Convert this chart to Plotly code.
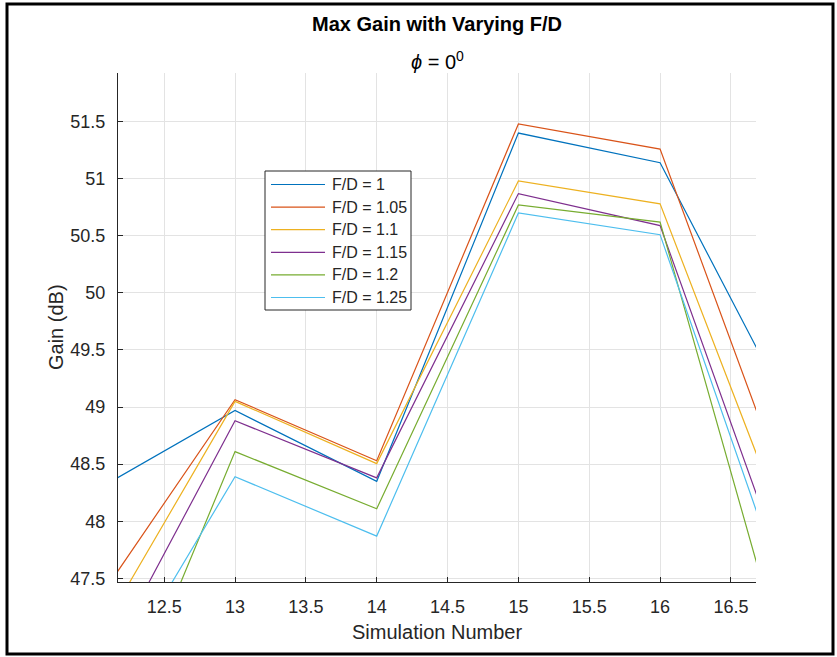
import plotly.graph_objects as go

# Simulation runs and peak gain (dB) for each focal-length-to-diameter ratio
sim_number = [12, 13, 14, 15, 16, 17]
fd_labels = ["F/D = 1", "F/D = 1.05", "F/D = 1.1", "F/D = 1.15", "F/D = 1.2", "F/D = 1.25"]
gain_fd_100 = [48.26, 48.97, 48.35, 51.40, 51.14, 48.76]
gain_fd_105 = [47.25, 49.065, 48.53, 51.48, 51.26, 47.89]
gain_fd_110 = [46.92, 49.05, 48.505, 50.98, 50.78, 47.56]
gain_fd_115 = [46.55, 48.88, 48.38, 50.87, 50.59, 47.13]
gain_fd_120 = [45.62, 48.61, 48.11, 50.77, 50.62, 46.24]
gain_fd_125 = [46.31, 48.39, 47.87, 50.70, 50.51, 46.95]

x_ticks = [12.5, 13, 13.5, 14, 14.5, 15, 15.5, 16, 16.5]
x_tick_labels = ["12.5", "13", "13.5", "14", "14.5", "15", "15.5", "16", "16.5"]
y_ticks = [47.5, 48, 48.5, 49, 49.5, 50, 50.5, 51, 51.5]
y_tick_labels = ["47.5", "48", "48.5", "49", "49.5", "50", "50.5", "51", "51.5"]

series = [gain_fd_100, gain_fd_105, gain_fd_110, gain_fd_115, gain_fd_120, gain_fd_125]
colors = ["#0072BD", "#D95319", "#EDB120", "#7E2F8E", "#77AC30", "#4DBEEE"]

FONT = "Liberation Sans, Arial, Helvetica, sans-serif"
INK = "#262626"
LINE_W = 1.2

fig = go.Figure()
for name, values, color in zip(fd_labels, series, colors):
    fig.add_trace(go.Scatter(
        x=sim_number, y=values, name=name, mode="lines",
        line=dict(color=color, width=LINE_W), showlegend=False,
    ))

# plot area in pixels: x 118..756, y 73..582
L, R, T, B = 118, 756, 73, 582
W, H = 837, 657


def px(xp):
    return (xp - L) / (R - L)


def py(yp):
    return (B - yp) / (B - T)


shapes = [
    # figure frame
    dict(type="rect", xref="paper", yref="paper",
         x0=px(7), x1=px(833), y0=py(654), y1=py(4),
         line=dict(color="black", width=3), fillcolor="rgba(0,0,0,0)",
         layer="above"),
]
annotations = [
    dict(text="<b>Max Gain with Varying F/D</b>", x=0.5, y=py(24),
         xref="paper", yref="paper", yanchor="middle", showarrow=False,
         font=dict(family=FONT, size=20, color="black")),
    dict(text="<i>ϕ</i> = 0<sup>0</sup>", x=0.5, y=py(60),
         xref="paper", yref="paper", yanchor="middle", showarrow=False,
         font=dict(family=FONT, size=20, color="black")),
    dict(text="Simulation Number", x=0.5, y=py(632),
         xref="paper", yref="paper", yanchor="middle", showarrow=False,
         font=dict(family=FONT, size=20, color=INK)),
    dict(text="Gain (dB)", x=px(56), y=py(327), textangle=-90,
         xref="paper", yref="paper", xanchor="center", yanchor="middle",
         showarrow=False, font=dict(family=FONT, size=20, color=INK)),
]

# legend box with long line samples
box_l, box_t, box_r, box_b = 265, 171, 411, 310
row0, row_step = 184.5, 22.6
shapes.append(dict(type="rect", xref="paper", yref="paper",
                   x0=px(box_l), x1=px(box_r), y0=py(box_b), y1=py(box_t),
                   line=dict(color=INK, width=1), fillcolor="white",
                   layer="above"))
for i, (name, color) in enumerate(zip(fd_labels, colors)):
    yy = row0 + i * row_step
    shapes.append(dict(type="line", xref="paper", yref="paper",
                       x0=px(271), x1=px(325), y0=py(yy), y1=py(yy),
                       line=dict(color=color, width=LINE_W), layer="above"))
    annotations.append(dict(text=name, x=px(330), y=py(yy),
                            xref="paper", yref="paper",
                            xanchor="left", yanchor="middle", showarrow=False,
                            font=dict(family=FONT, size=16, color=INK)))

fig.update_layout(
    width=W, height=H,
    margin=dict(l=L, r=W - R, t=T, b=H - B),
    paper_bgcolor="white", plot_bgcolor="white",
    font=dict(family=FONT, size=18, color=INK),
    showlegend=False,
    xaxis=dict(
        range=[12.174, 16.677],
        tickvals=x_ticks, ticktext=x_tick_labels,
        ticks="inside", ticklen=5, tickcolor=INK,
        showline=True, linecolor=INK, linewidth=1,
        showgrid=True, gridcolor="#e3e3e3", gridwidth=1,
        zeroline=False, mirror=False,
        tickfont=dict(family=FONT, size=18, color=INK),
        ticklabelstandoff=8,
    ),
    yaxis=dict(
        range=[47.468, 51.926],
        tickvals=y_ticks, ticktext=y_tick_labels,
        ticks="inside", ticklen=5, tickcolor=INK,
        showline=True, linecolor=INK, linewidth=1,
        showgrid=True, gridcolor="#e3e3e3", gridwidth=1,
        zeroline=False, mirror=False,
        tickfont=dict(family=FONT, size=18, color=INK),
        ticklabelstandoff=8,
    ),
    annotations=annotations,
    shapes=shapes,
)

fig.write_html("out.html")
